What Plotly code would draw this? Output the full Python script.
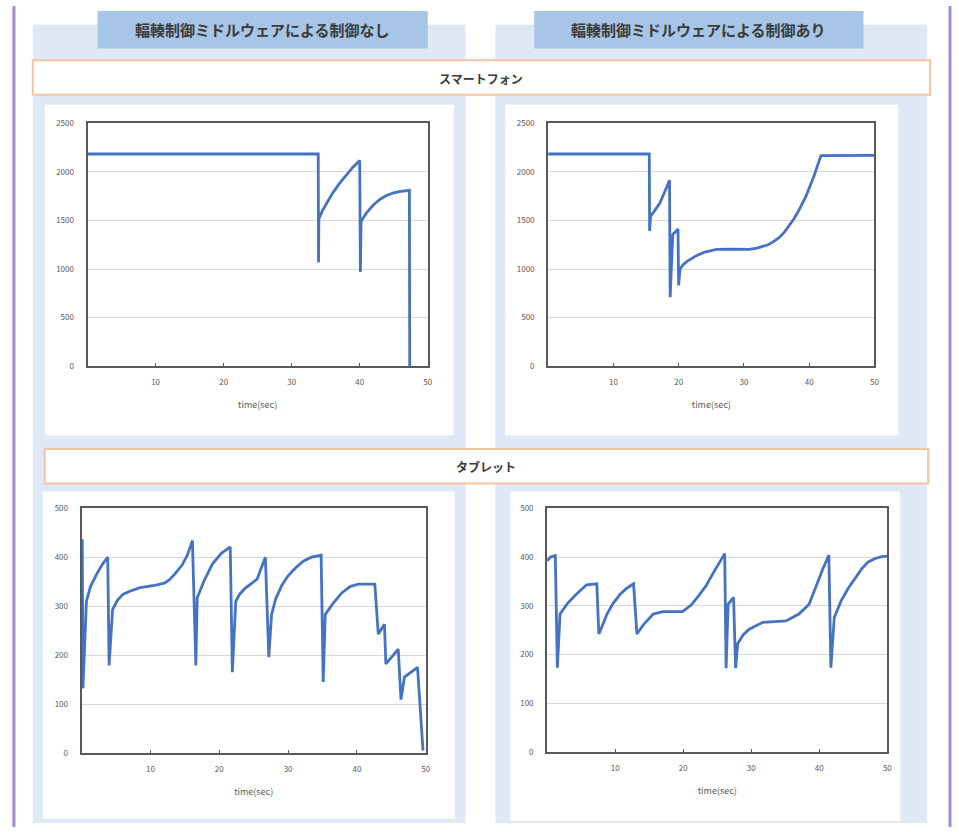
import plotly.graph_objects as go

W, H = 959, 832

# ---------------- data ----------------
# Smartphone, without congestion-control middleware
sp_off_t = [0, 33.9, 33.95, 34.0, 34.5, 35, 36, 37, 38, 39, 40.0, 40.1, 40.2, 40.6, 41, 42, 43, 44, 45, 46, 47.1, 47.3, 47.35]
sp_off_v = [2185, 2185, 1070, 1520, 1600, 1665, 1780, 1880, 1970, 2050, 2117, 970, 1490, 1540, 1580, 1660, 1720, 1760, 1785, 1800, 1810, 1810, 0]

# Smartphone, with congestion-control middleware
sp_on_t = [0, 15.5, 15.55, 15.7, 16.3, 17.1, 17.9, 18.6, 18.7, 19.1, 19.9, 20.0, 20.2, 20.7, 21.3, 22.0, 22.7, 24.0,
           25.8, 28.0, 30.8, 32.0, 33.0, 33.8, 34.7, 35.5, 36.2, 36.9, 37.6, 38.3, 39.5, 40.7, 41.5, 41.8, 50]
sp_on_v = [2185, 2185, 1392, 1545, 1600, 1677, 1800, 1914, 711, 1355, 1413, 833, 999, 1045, 1080, 1112, 1138, 1175,
           1202, 1205, 1202, 1215, 1232, 1253, 1290, 1330, 1380, 1443, 1510, 1590, 1748, 1950, 2110, 2168, 2170]

# Tablet, without congestion-control middleware
tb_off_t = [0, 0.1, 0.2, 0.7, 1.3, 2.1, 3.0, 3.8, 4.0, 4.5, 5.2, 6.0, 6.9, 8.5, 10.8, 12.0, 12.7, 13.5, 14.6, 15.4, 16.1,
            16.6, 16.8, 17.8, 19.0, 20.3, 21.6, 21.9, 22.4, 23.0, 23.8, 24.7, 25.5, 26.1, 26.7, 27.2, 27.6, 28.2, 29.1,
            30.0, 31.0, 32.2, 33.4, 34.8, 35.1, 35.4, 36.5, 37.8, 39.0, 40.2, 42.6, 43.1, 44.0, 44.2, 46.0, 46.4,
            46.9, 48.8, 49.6]
tb_off_v = [434, 434, 132, 310, 340, 363, 385, 400, 179, 293, 312, 324, 330, 338, 343, 347, 353, 365, 384, 405, 434,
            179, 317, 352, 386, 408, 421, 165, 310, 325, 337, 347, 355, 378, 400, 196, 283, 315, 343,
            362, 377, 392, 400, 404, 145, 283, 305, 327, 340, 345, 345, 243, 263, 182, 212, 109,
            155, 175, 5]

# Tablet, with congestion-control middleware
tb_on_t = [0, 0.5, 1.2, 1.5, 1.9, 3.0, 4.4, 5.8, 7.3, 7.6, 8.2, 8.8, 9.7, 10.7, 11.7, 12.7, 13.2, 14.2, 15.6, 17.0,
           19.9, 21.2, 22.4, 23.4, 24.4, 25.3, 26.1, 26.3, 26.6, 27.4, 27.7, 28.0, 28.8, 29.7, 31.7, 35.1, 37.0,
           38.5, 39.5, 40.5, 41.4, 41.7, 42.2, 43.2, 44.3, 45.3, 46.3, 47.2, 48.2, 49.2, 50]
tb_on_v = [392, 400, 403, 173, 283, 305, 325, 343, 345, 242, 262, 283, 305, 323, 336, 345, 242, 262, 283, 288,
           288, 302, 323, 342, 367, 387, 407, 172, 303, 317, 172, 222, 240, 252, 266, 269, 283,
           303, 340, 375, 404, 173, 276, 310, 337, 358, 377, 390, 397, 401, 402]

x_ticks = [10, 20, 30, 40, 50]
sp_y_ticks = [0, 500, 1000, 1500, 2000, 2500]
tb_y_ticks = [0, 100, 200, 300, 400, 500]

col_titles = ["輻輳制御ミドルウェアによる制御なし", "輻輳制御ミドルウェアによる制御あり"]
row_titles = ["スマートフォン", "タブレット"]
x_title = "time(sec)"

# ---------------- layout helpers ----------------
def px(x):
    return x / W

def py(y):
    return 1 - y / H

def rect(x0, y0, x1, y1, fill, line_color=None, line_width=0):
    return dict(type="rect", xref="paper", yref="paper",
                x0=px(x0), x1=px(x1), y0=py(y1), y1=py(y0),
                fillcolor=fill, layer="below",
                line=dict(color=line_color or fill, width=line_width))

FONT = "Noto Sans CJK JP, Noto Sans, sans-serif"
LINE_BLUE = "#4472c4"
AXIS_GREY = "#595959"

fig = go.Figure()

panels = [
    (sp_off_t, sp_off_v, sp_y_ticks, 2500, (88, 430), (119, 365)),
    (sp_on_t, sp_on_v, sp_y_ticks, 2500, (551, 879), (119, 365)),
    (tb_off_t, tb_off_v, tb_y_ticks, 500, (82, 428), (509, 757)),
    (tb_on_t, tb_on_v, tb_y_ticks, 500, (550, 892), (509, 756)),
]

layout_axes = {}
for i, (t, v, yt, ymax, xd, yd) in enumerate(panels, start=1):
    xa = "x" if i == 1 else f"x{i}"
    ya = "y" if i == 1 else f"y{i}"
    fig.add_trace(go.Scatter(x=t, y=v, mode="lines", xaxis=xa, yaxis=ya,
                             line=dict(color=LINE_BLUE, width=2.8),
                             showlegend=False, hoverinfo="x+y"))
    xkey = "xaxis" if i == 1 else f"xaxis{i}"
    ykey = "yaxis" if i == 1 else f"yaxis{i}"
    layout_axes[xkey] = dict(
        domain=[px(xd[0]), px(xd[1])], anchor=ya, range=[0, 50],
        tickvals=x_ticks, ticks="inside", ticklen=3, tickcolor=AXIS_GREY,
        showline=True, mirror=True, linecolor=AXIS_GREY, linewidth=2,
        showgrid=False, zeroline=False, ticklabelstandoff=7,
        tickfont=dict(size=8, color=AXIS_GREY, family=FONT),
        title=dict(text=x_title, font=dict(size=9, color=AXIS_GREY, family=FONT), standoff=16),
    )
    layout_axes[ykey] = dict(
        domain=[py(yd[1]), py(yd[0])], anchor=xa, range=[0, ymax],
        tickvals=yt, ticks="", showline=True, mirror=True, linecolor=AXIS_GREY, linewidth=2,
        showgrid=True, gridcolor="#d9d9d9", gridwidth=1, zeroline=False,
        tickfont=dict(size=8, color=AXIS_GREY, family=FONT), ticklabelstandoff=10,
    )

shapes = [
    dict(type="line", xref="paper", yref="paper", x0=px(14), x1=px(14), y0=0, y1=1,
         line=dict(color="#a58ad8", width=3), layer="below"),
    dict(type="line", xref="paper", yref="paper", x0=px(955), x1=px(955), y0=0, y1=1,
         line=dict(color="#a58ad8", width=3), layer="below"),
    rect(33, 19, 468, 828, "#dfe9f5"),
    rect(498, 19, 932, 828, "#dfe9f5"),
    rect(98, 5, 430, 43, "#a7c5e6"),
    rect(537, 5, 868, 43, "#a7c5e6"),
    rect(33, 55, 935, 90, "#ffffff", "#f6c4a2", 2),
    rect(45, 449, 933, 484, "#ffffff", "#f6c4a2", 2),
    rect(45, 100, 456, 435, "#ffffff"),
    rect(508, 100, 903, 435, "#ffffff"),
    rect(43, 492, 457, 824, "#ffffff"),
    rect(513, 492, 905, 826, "#ffffff"),
]

def label(text, x, y, size):
    return dict(text=f"<b>{text}</b>", x=px(x), y=py(y), xref="paper", yref="paper",
                xanchor="center", yanchor="middle", showarrow=False,
                font=dict(size=size, color="#3a3a3a", family=FONT))

annotations = [
    label(col_titles[0], 264, 24, 15),
    label(col_titles[1], 702, 24, 15),
    label(row_titles[0], 484, 73, 12),
    label(row_titles[1], 489, 467, 12),
]

fig.update_layout(
    width=W, height=H, margin=dict(l=0, r=0, t=0, b=0),
    paper_bgcolor="#ffffff", plot_bgcolor="#ffffff",
    shapes=shapes, annotations=annotations, showlegend=False,
    font=dict(family=FONT),
    **layout_axes,
)

fig.write_html("out.html", config={"displayModeBar": False},
               post_script="document.body.style.margin='0';document.body.style.overflow='hidden';")
